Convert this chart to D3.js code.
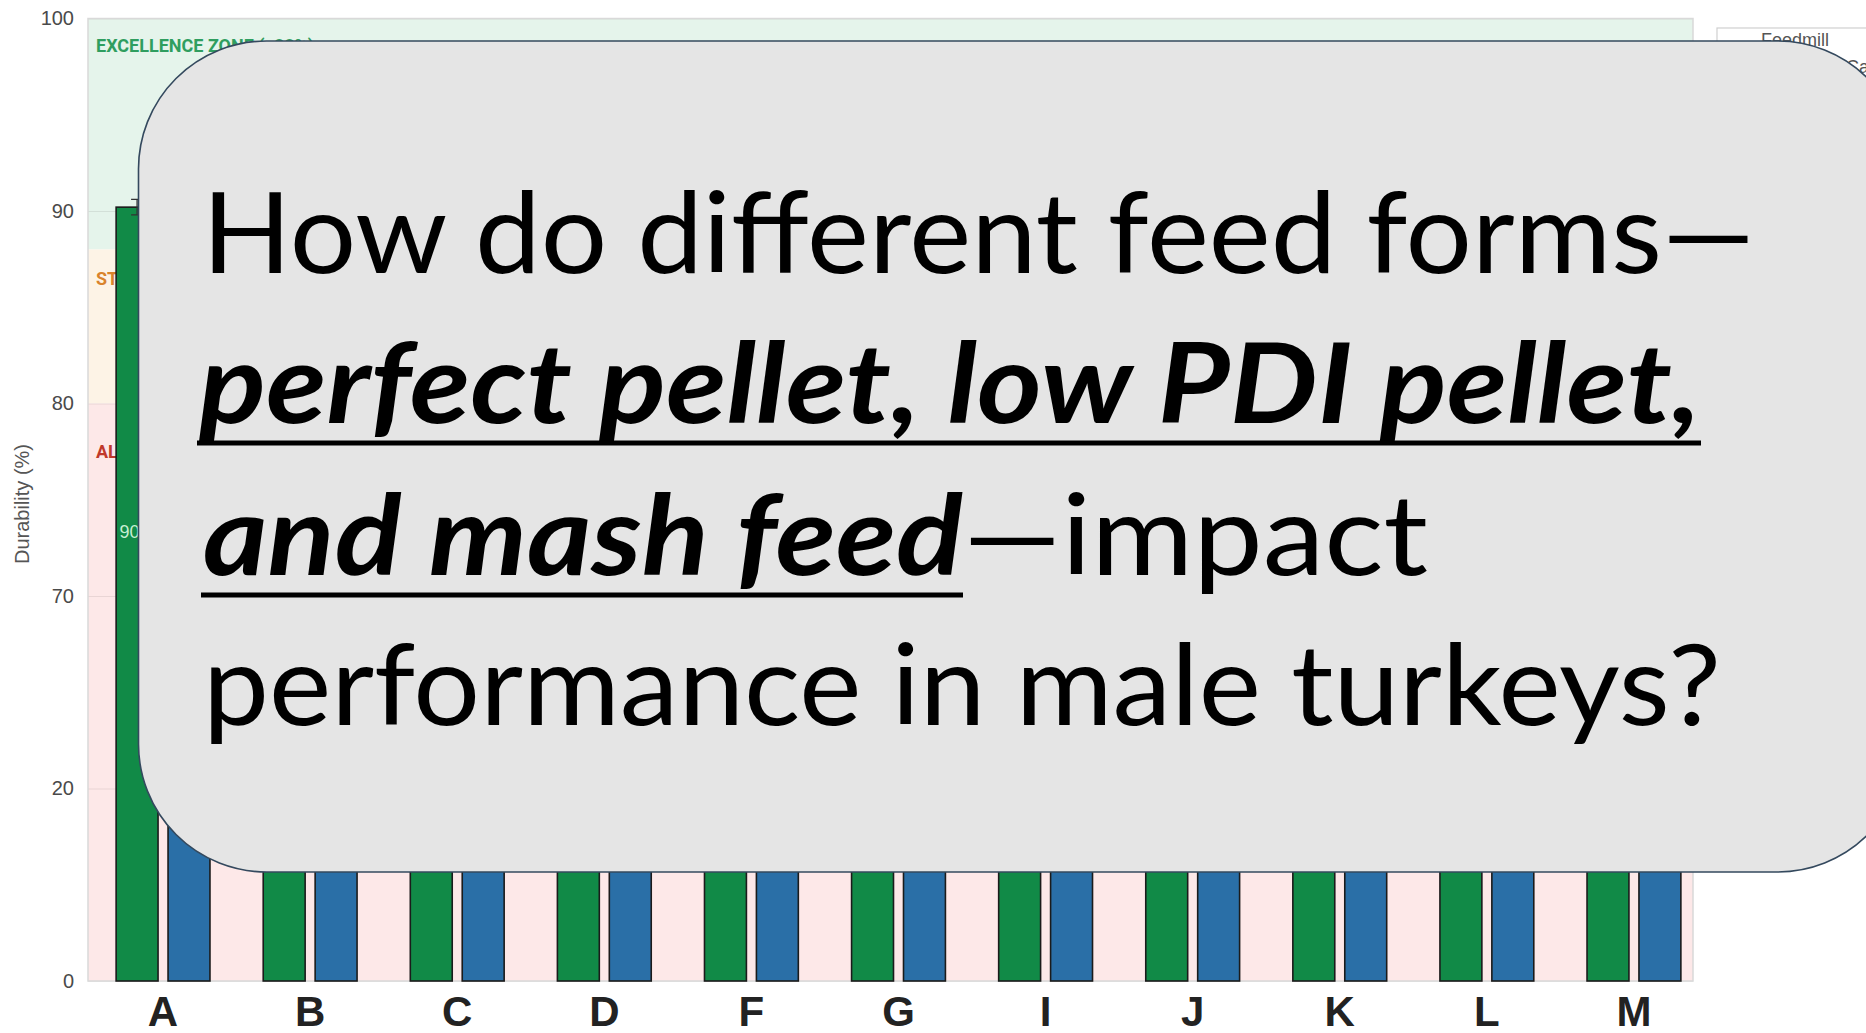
<!DOCTYPE html>
<html>
<head>
<meta charset="utf-8">
<script src="https://cdn.jsdelivr.net/npm/d3@7"></script>
<style>
  body { margin: 0; background: #ffffff; overflow: hidden; }
  svg { display: block; }
</style>
</head>
<body>
<div class="chart"></div>
<script>
// pellet durability per feedmill (%)
var categories = ["A", "B", "C", "D", "F", "G", "I", "J", "K", "L", "M"];
var feedmillValues = [90.2, 91.4, 89.6, 92.0, 90.8, 88.9, 91.1, 90.3, 89.4, 92.3, 90.6];
var productValues = [85.1, 84.3, 86.2, 83.8, 85.6, 84.9, 86.4, 83.5, 85.0, 84.1, 86.0];
var feedmillErrors = [0.4, 0.5, 0.4, 0.3, 0.5, 0.4, 0.4, 0.5, 0.3, 0.4, 0.5];
var productErrors = [0.6, 0.5, 0.7, 0.6, 0.5, 0.6, 0.7, 0.5, 0.6, 0.6, 0.5];

// broken axis: ticks are evenly spaced
var yTickValues = [0, 20, 70, 80, 90, 100];

var zoneNames = ["EXCELLENCE ZONE (>88%)", "STANDARD ZONE (80-88%)", "ALERT ZONE (<80%)"];
var zoneTops = [100, 88, 80];
var zoneBottoms = [88, 80, 0];
var zoneFills = ["#e5f4eb", "#fdf3e6", "#fde8e8"];
var zoneTextColors = ["#2f9e5f", "#d9832c", "#c0392b"];

var legendLabels = ["Feedmill", "Product Category"];

// question box text, one array per line
var questionLines = [
    [{ text: "How do different feed forms\u2014", em: false }],
    [{ text: "perfect pellet, low PDI pellet,", em: true }],
    [{ text: "and mash feed", em: true }, { text: "\u2014impact", em: false }],
    [{ text: "performance in male turkeys?", em: false }]
];

var svgWidth = 1866;
var svgHeight = 1033;

var margin = { top: 18.5, right: 173, bottom: 52, left: 88 };
var width = svgWidth - margin.left - margin.right;
var height = svgHeight - margin.top - margin.bottom;

var svg = d3.select(".chart")
    .append("svg")
    .attr("width", svgWidth)
    .attr("height", svgHeight);

var chartGroup = svg.append("g")
    .attr("transform", `translate(${margin.left}, ${margin.top})`);

// scales
var yScale = d3.scaleLinear()
    .domain(yTickValues)
    .range(yTickValues.map((d, i) => height - i * height / (yTickValues.length - 1)));

var xScale = d3.scaleBand()
    .domain(categories)
    .range([1.5, 1619.5]);

var barWidth = xScale.bandwidth() * 0.285;
var barGap = xScale.bandwidth() * 0.068;

// zones
chartGroup.selectAll(".zone")
    .data(zoneNames)
    .enter()
    .append("rect")
    .attr("class", "zone")
    .attr("x", 0)
    .attr("width", width)
    .attr("y", (d, i) => yScale(zoneTops[i]))
    .attr("height", (d, i) => yScale(zoneBottoms[i]) - yScale(zoneTops[i]))
    .attr("fill", (d, i) => zoneFills[i]);

// gridlines
chartGroup.append("g")
    .call(d3.axisLeft(yScale).tickValues(yTickValues).tickSize(-width).tickFormat(""))
    .call(g => g.select(".domain").remove())
    .call(g => g.selectAll("line").attr("stroke", "#000").attr("stroke-opacity", 0.08).attr("stroke-width", 1.2));

// plot frame
chartGroup.append("rect")
    .attr("width", width)
    .attr("height", height)
    .attr("fill", "none")
    .attr("stroke", "#d9d9d9")
    .attr("stroke-width", 1.5);

// zone labels (placed a little below each zone's top)
var zoneLabelDrop = [1.4, 1.5, 2.5];
chartGroup.selectAll(".zone-label")
    .data(zoneNames)
    .enter()
    .append("text")
    .attr("x", 8)
    .attr("y", (d, i) => yScale(zoneTops[i] - zoneLabelDrop[i]))
    .attr("dy", "0.36em")
    .attr("font-family", "Roboto, sans-serif")
    .attr("font-weight", "bold")
    .attr("font-size", 18)
    .attr("fill", (d, i) => zoneTextColors[i])
    .text(d => d);

// y axis
var yAxis = d3.axisLeft(yScale).tickValues(yTickValues).tickSize(0).tickPadding(14);
chartGroup.append("g")
    .call(yAxis)
    .call(g => g.select(".domain").remove())
    .selectAll("text")
    .attr("font-family", "Liberation Sans, Arial, sans-serif")
    .attr("font-size", 20)
    .attr("fill", "#4a4a4a");

svg.append("text")
    .attr("transform", "translate(22, 504) rotate(-90)")
    .attr("text-anchor", "middle")
    .attr("dy", "0.35em")
    .attr("font-family", "Liberation Sans, Arial, sans-serif")
    .attr("font-size", 20)
    .attr("fill", "#555")
    .text("Durability (%)");

// x axis
var xAxis = d3.axisBottom(xScale).tickSize(0).tickPadding(15);
chartGroup.append("g")
    .attr("transform", `translate(0, ${height})`)
    .call(xAxis)
    .call(g => g.select(".domain").remove())
    .selectAll("text")
    .attr("font-family", "Liberation Sans, Arial, sans-serif")
    .attr("font-weight", "bold")
    .attr("font-size", 42)
    .attr("fill", "#222")
    .attr("dy", "0.71em");

// bars
var series = [
    { values: feedmillValues, errors: feedmillErrors, fill: "#118a47", label: "#c6eed2", offset: -barGap / 2 - barWidth },
    { values: productValues, errors: productErrors, fill: "#2a6fa7", label: "#cfe2f3", offset: barGap / 2 }
];

series.forEach(function (s) {
    var g = chartGroup.append("g");
    g.selectAll("rect")
        .data(categories)
        .enter()
        .append("rect")
        .attr("x", d => xScale(d) + xScale.bandwidth() / 2 + s.offset)
        .attr("y", (d, i) => yScale(s.values[i]))
        .attr("width", barWidth)
        .attr("height", (d, i) => height - yScale(s.values[i]))
        .attr("fill", s.fill)
        .attr("stroke", "#1b1b1b")
        .attr("stroke-width", 1.6);

    // error bars
    g.selectAll(".err")
        .data(categories)
        .enter()
        .append("path")
        .attr("fill", "none")
        .attr("stroke", "#333")
        .attr("stroke-width", 1.3)
        .attr("d", function (d, i) {
            var cx = xScale(d) + xScale.bandwidth() / 2 + s.offset + barWidth / 2;
            var y0 = yScale(s.values[i] - s.errors[i]);
            var y1 = yScale(s.values[i] + s.errors[i]);
            return `M${cx},${y0}V${y1}M${cx - 6},${y1}H${cx + 6}M${cx - 6},${y0}H${cx + 6}`;
        });

    // value labels
    g.selectAll(".val")
        .data(categories)
        .enter()
        .append("text")
        .attr("x", d => xScale(d) + xScale.bandwidth() / 2 + s.offset + barWidth / 2)
        .attr("y", (d, i) => yScale(s.values[i]) + 0.42 * (height - yScale(s.values[i])) + 6)
        .attr("text-anchor", "middle")
        .attr("font-family", "Liberation Sans, Arial, sans-serif")
        .attr("font-size", 18)
        .attr("fill", s.label)
        .text((d, i) => d3.format(".1f")(s.values[i]));
});

// legend (top right)
var legend = svg.append("g").attr("transform", "translate(1717, 28)");
legend.append("rect")
    .attr("width", 200)
    .attr("height", 150)
    .attr("fill", "#fff")
    .attr("stroke", "#d0d0d0")
    .attr("stroke-width", 1.2);
legend.selectAll("text")
    .data(legendLabels)
    .enter()
    .append("text")
    .attr("x", (d, i) => i === 0 ? 78 : 62)
    .attr("y", (d, i) => 18 + i * 27)
    .attr("text-anchor", (d, i) => i === 0 ? "middle" : "start")
    .attr("font-family", "Liberation Sans, Arial, sans-serif")
    .attr("font-size", 18)
    .attr("fill", "#555")
    .text(d => d);

// question box overlay
svg.append("rect")
    .attr("x", 138.5)
    .attr("y", 41)
    .attr("width", 1767)
    .attr("height", 831)
    .attr("rx", 128)
    .attr("ry", 128)
    .attr("fill", "#e5e5e5")
    .attr("stroke", "#34495e")
    .attr("stroke-width", 1.6);

var lineBaselines = [273, 423, 575, 725];
var segmentStarts = [[202], [199], [203, 963], [203]];
var segmentLengths = [[1553], [1502], [760, 465], [1518]];

questionLines.forEach(function (line, li) {
    line.forEach(function (seg, si) {
        var x0 = segmentStarts[li][si];
        var len = segmentLengths[li][si];
        svg.append("text")
            .attr("x", x0)
            .attr("y", lineBaselines[li])
            .attr("font-family", "Lato, 'Open Sans', sans-serif")
            .attr("font-size", 112)
            .attr("font-weight", seg.em ? "bold" : "normal")
            .attr("font-style", seg.em ? "italic" : "normal")
            .attr("fill", "#000")
            .attr("textLength", len)
            .attr("lengthAdjust", "spacingAndGlyphs")
            .text(seg.text);
        if (seg.em) {
            svg.append("line")
                .attr("x1", x0 - 2)
                .attr("x2", x0 + len)
                .attr("y1", lineBaselines[li] + 20)
                .attr("y2", lineBaselines[li] + 20)
                .attr("stroke", "#000")
                .attr("stroke-width", 5);
        }
    });
});
</script>
</body>
</html>
